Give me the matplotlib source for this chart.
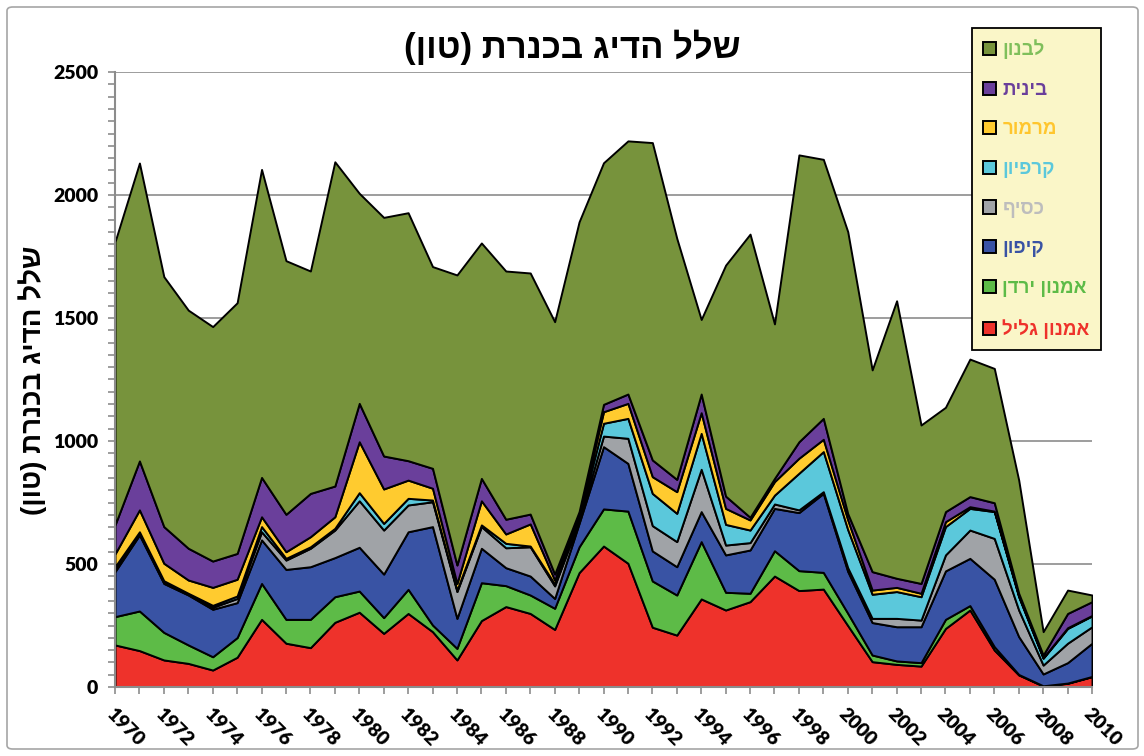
import numpy as np
import matplotlib
matplotlib.use("Agg")
import matplotlib.pyplot as plt
from matplotlib.patches import Patch, FancyBboxPatch
from matplotlib.ticker import MultipleLocator

years = list(range(1970, 2011))

# catch per species (tons), bottom layer first
amnon_galil = [171, 148, 110, 96, 69, 121, 275, 178, 160, 263, 304, 218, 299, 225, 110, 270, 327, 299, 234, 465,
               573, 503, 243, 211, 358, 313, 347, 451, 392, 398, 250, 103, 92, 85, 238, 313, 150, 49, 4, 15, 42]
amnon_yarden = [115, 161, 112, 75, 54, 80, 146, 97, 115, 104, 86, 64, 98, 27, 47, 154, 85, 75, 86, 105,
                151, 212, 188, 163, 233, 72, 34, 103, 81, 68, 50, 27, 14, 14, 37, 18, 14, 2, 1, 1, 1]
kipon = [183, 309, 199, 203, 193, 142, 177, 203, 214, 159, 178, 177, 234, 400, 122, 140, 73, 77, 40, 95,
         253, 194, 122, 115, 122, 152, 176, 172, 236, 321, 170, 132, 139, 146, 197, 192, 274, 154, 48, 83, 135]
kasif = [13, 7, 4, 3, 8, 17, 33, 38, 75, 112, 189, 179, 109, 101, 109, 88, 81, 119, 51, 11,
         43, 102, 103, 102, 172, 40, 30, 18, 11, 7, 15, 17, 34, 27, 65, 115, 166, 108, 36, 79, 67]
karpion = [7, 6, 7, 4, 8, 10, 21, 7, 6, 7, 33, 27, 27, 7, 6, 7, 18, 3, 8, 10,
           52, 81, 131, 115, 146, 84, 51, 36, 149, 163, 155, 98, 109, 95, 115, 88, 109, 54, 28, 60, 44]
marmur = [52, 89, 71, 54, 73, 68, 40, 27, 41, 47, 207, 140, 74, 48, 27, 98, 38, 90, 16, 13,
          47, 61, 68, 88, 84, 65, 41, 55, 61, 50, 40, 17, 17, 14, 20, 7, 2, 3, 2, 3, 2]
binit = [118, 199, 149, 129, 107, 105, 160, 152, 176, 125, 156, 134, 79, 81, 75, 91, 60, 40, 24, 14,
         30, 38, 68, 50, 76, 50, 11, 13, 67, 85, 25, 75, 37, 40, 41, 41, 34, 11, 11, 58, 56]
levanon = [1151, 1211, 1016, 968, 953, 1019, 1252, 1031, 904, 1318, 854, 970, 1008, 820, 1179, 957, 1009, 980, 1026, 1178,
           982, 1029, 1290, 980, 303, 939, 1151, 628, 1166, 1053, 1146, 820, 1128, 644, 424, 559, 546, 460, 95, 95, 27]

series = [amnon_galil, amnon_yarden, kipon, kasif, karpion, marmur, binit, levanon]
names = ["אמנון גליל", "אמנון ירדן", "קיפון", "כסיף", "קרפיון", "מרמור", "בינית", "לבנון"]
fills = ["#EE322B", "#5DBB47", "#3953A4", "#A0A3A7", "#5BC8DB", "#FFCB2F", "#6A3F9B", "#77933C"]
text_colors = ["#EE322B", "#5DBB47", "#3953A4", "#BDBDBD", "#5BC8DB", "#FFC62E", "#6A3F9B", "#7FBF5B"]
title = "שלל הדיג בכנרת (טון)"


def rtl(s):
    # matplotlib has no bidi support: flip the string for visual order
    swap = {"(": ")", ")": "("}
    return "".join(swap.get(c, c) for c in reversed(s))


heb = ["Liberation Sans", "DejaVu Sans"]
num = ["Lato", "DejaVu Sans"]

fig = plt.figure(figsize=(11.44, 7.56), dpi=100)
ax = fig.add_axes([115 / 1144, 1 - 687 / 756, (1092 - 115) / 1144, (687 - 72) / 756])

ax.stackplot(years, *series, colors=fills, edgecolor="black", linewidth=1.4)

ax.set_xlim(1970, 2010)
ax.set_ylim(0, 2500)
ax.yaxis.set_major_locator(MultipleLocator(500))
ax.yaxis.set_minor_locator(MultipleLocator(50))
ax.xaxis.set_major_locator(MultipleLocator(2))
ax.xaxis.set_minor_locator(MultipleLocator(1))
ax.grid(axis="y", which="major", color="#8C8C8C", linewidth=1.2)
ax.set_axisbelow(True)
for s in ["top", "right"]:
    ax.spines[s].set_visible(False)
for s in ["left", "bottom"]:
    ax.spines[s].set_color("#8C8C8C")
    ax.spines[s].set_linewidth(1.5)
ax.tick_params(which="both", color="#8C8C8C", width=1.2, length=5, direction="out")

ax.set_xticks(years[::2])
ax.set_xticklabels([str(y) for y in years[::2]], rotation=-45, ha="left", va="top",
                   rotation_mode="anchor", fontsize=14, fontweight="heavy", family=num)
ax.tick_params(axis="x", pad=8)
for lab in ax.get_yticklabels():
    lab.set_fontsize(14)
    lab.set_fontweight("heavy")
    lab.set_family(num)
ax.tick_params(axis="y", pad=7)

fig.text(0.5, 1 - 47 / 756, rtl(title), ha="center", va="center",
         fontsize=25, fontweight="bold", family=heb)
fig.text(33 / 1144, 1 - 380 / 756, rtl(title), ha="center", va="center", rotation=90,
         fontsize=20, fontweight="bold", family=heb)

handles = [Patch(facecolor=fills[i], edgecolor="black", linewidth=1.4) for i in range(7, -1, -1)]
labels = [rtl(names[i]) for i in range(7, -1, -1)]
leg = fig.legend(handles, labels, loc="upper right", bbox_to_anchor=(1101 / 1144, 1 - 28 / 756),
                 borderaxespad=0, frameon=True, fancybox=False, facecolor="#FAF6C8",
                 edgecolor="black", framealpha=1, handlelength=0.7, handleheight=0.7,
                 handletextpad=0.35, labelspacing=1.2, borderpad=0.6,
                 prop={"family": heb, "weight": "bold", "size": 13.5})
leg.get_frame().set_linewidth(1.3)
for t, i in zip(leg.get_texts(), range(7, -1, -1)):
    t.set_color(text_colors[i])

fig.patches.append(FancyBboxPatch((7 / 1144, 7 / 756), 1131 / 1144, 742 / 756,
                                  boxstyle="round,pad=0,rounding_size=0.005",
                                  transform=fig.transFigure, facecolor="none",
                                  edgecolor="#A6A6A6", linewidth=1.2))

fig.savefig("out.png", dpi=100)
